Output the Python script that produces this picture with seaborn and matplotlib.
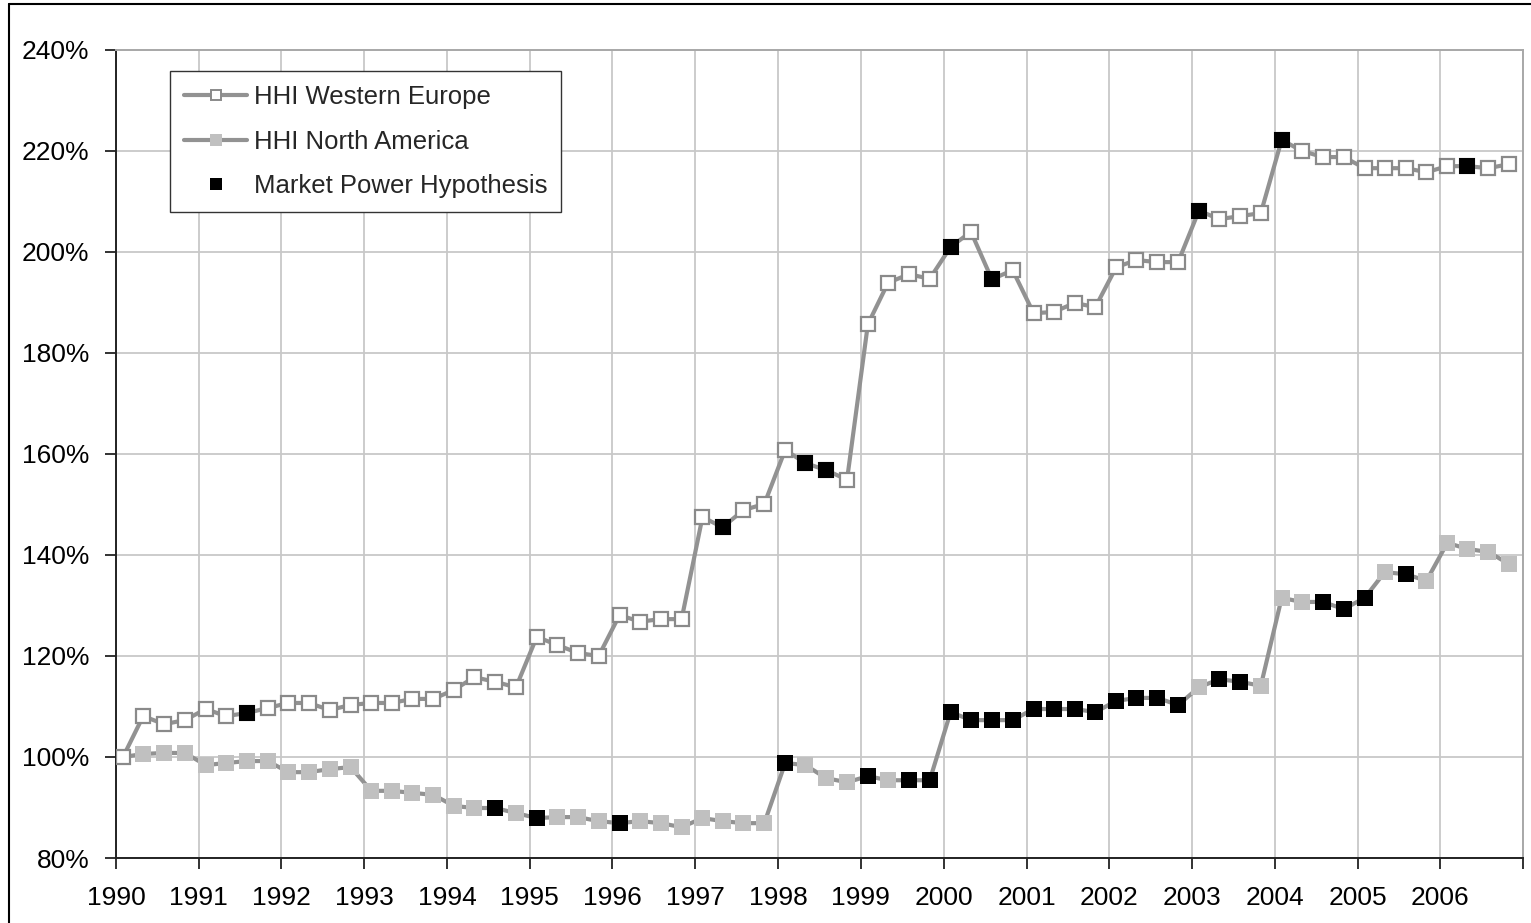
import matplotlib
matplotlib.use("Agg")
import matplotlib.pyplot as plt
import matplotlib.dates as mdates
from matplotlib.lines import Line2D
from matplotlib.ticker import FuncFormatter
import seaborn as sns
import pandas as pd

# ---------------- data ----------------
first_period = "1990-02-01"
n_periods = 68
year_labels = [str(y) for y in range(1990, 2007)]

hhi_we = [100.0, 108.1, 106.5, 107.3,
          109.5, 108.1, 108.7, 109.7,
          110.7, 110.7, 109.3, 110.3,
          110.7, 110.7, 111.5, 111.5,
          113.3, 115.8, 114.9, 113.8,
          123.8, 122.2, 120.6, 120.0,
          128.1, 126.8, 127.3, 127.3,
          147.5, 145.5, 148.9, 150.1,
          160.8, 158.2, 156.8, 154.9,
          185.7, 193.9, 195.6, 194.7,
          201.0, 204.0, 194.6, 196.4,
          187.9, 188.1, 189.9, 189.1,
          197.0, 198.4, 198.0, 198.0,
          208.2, 206.5, 207.1, 207.7,
          222.2, 220.0, 218.8, 218.8,
          216.6, 216.6, 216.6, 215.8,
          217.0, 217.0, 216.6, 217.4]

hhi_na = [100.0, 100.6, 100.8, 100.8,
          98.4, 98.8, 99.2, 99.2,
          97.0, 97.0, 97.6, 98.0,
          93.3, 93.3, 92.9, 92.5,
          90.3, 89.9, 89.9, 88.9,
          87.9, 88.1, 88.1, 87.3,
          86.9, 87.3, 86.9, 86.1,
          87.9, 87.3, 86.9, 86.9,
          98.8, 98.4, 95.8, 95.0,
          96.2, 95.4, 95.4, 95.4,
          108.9, 107.3, 107.3, 107.3,
          109.5, 109.5, 109.5, 108.9,
          111.1, 111.7, 111.7, 110.3,
          113.8, 115.4, 114.9, 114.1,
          131.5, 130.7, 130.7, 129.3,
          131.5, 136.6, 136.2, 134.9,
          142.4, 141.2, 140.6, 138.2]

# quarters flagged by the market power hypothesis
mph_we = ["1991Q3", "1997Q2", "1998Q2", "1998Q3", "2000Q1", "2000Q3",
          "2003Q1", "2004Q1", "2006Q2"]
mph_na = ["1994Q3", "1995Q1", "1996Q1", "1998Q1", "1999Q1", "1999Q3", "1999Q4",
          "2000Q1", "2000Q2", "2000Q3", "2000Q4",
          "2001Q1", "2001Q2", "2001Q3", "2001Q4",
          "2002Q1", "2002Q2", "2002Q3", "2002Q4",
          "2003Q2", "2003Q3", "2004Q3", "2004Q4", "2005Q1", "2005Q3"]

y_ticks = [80, 100, 120, 140, 160, 180, 200, 220, 240]
series_labels = ["HHI Western Europe", "HHI North America", "Market Power Hypothesis"]

# ---------------- frame ----------------
dates = pd.date_range(first_period, periods=n_periods, freq="3MS")
qlabels = [f"{d.year}Q{(d.month - 1) // 3 + 1}" for d in dates]
df = pd.DataFrame({"date": dates, "q": qlabels, "we": hhi_we, "na": hhi_na})
mph_pts = pd.concat([
    df.loc[df["q"].isin(mph_we), ["date", "we"]].rename(columns={"we": "v"}),
    df.loc[df["q"].isin(mph_na), ["date", "na"]].rename(columns={"na": "v"}),
])

sns.set_theme(style="white")
plt.rcParams["font.family"] = ["Liberation Sans", "DejaVu Sans"]

W, H = 1531, 923
fig = plt.figure(figsize=(W / 100, H / 100), dpi=100)
ax = fig.add_axes([116 / W, (H - 858) / H, (1523 - 116) / W, (858 - 50) / H])

line_col = "#929292"
sns.lineplot(data=df, x="date", y="na", ax=ax, color=line_col, lw=3.0,
             marker="s", markersize=11.5, markerfacecolor="#c0c0c0",
             markeredgecolor="#c0c0c0", markeredgewidth=0, zorder=3)
sns.lineplot(data=df, x="date", y="we", ax=ax, color=line_col, lw=3.0,
             marker="s", markersize=10, markerfacecolor="white",
             markeredgecolor="#8a8a8a", markeredgewidth=1.6, zorder=4)
sns.scatterplot(data=mph_pts, x="date", y="v", ax=ax, color="black",
                marker="s", s=125, linewidth=0, zorder=5)

ax.set_xlim(pd.Timestamp("1990-01-01"), pd.Timestamp("2007-01-01"))
ax.set_ylim(80, 240)
ax.set_yticks(y_ticks)
ax.yaxis.set_major_formatter(FuncFormatter(lambda v, p: f"{v:.0f}%"))
ax.xaxis.set_major_locator(mdates.YearLocator(1))
ax.xaxis.set_major_formatter(FuncFormatter(
    lambda v, p: (lambda y: str(y) if str(y) in year_labels else "")(mdates.num2date(v).year)))
ax.set_xlabel("")
ax.set_ylabel("")

ax.grid(True, color="#c8c8c8", lw=1.3)
ax.set_axisbelow(True)
for s in ["left", "bottom"]:
    ax.spines[s].set_color("#222222")
    ax.spines[s].set_linewidth(1.4)
for s in ["top", "right"]:
    ax.spines[s].set_color("#a8a8a8")
    ax.spines[s].set_linewidth(1.4)

ax.tick_params(axis="both", which="major", direction="out", length=8, width=1.3,
               color="#222222", labelsize=19, labelcolor="black",
               bottom=True, left=True)
ax.tick_params(axis="y", pad=11)
ax.tick_params(axis="x", pad=12)

handles = [
    Line2D([], [], color=line_col, lw=3.0, marker="s", markersize=7,
           markerfacecolor="white", markeredgecolor="#8a8a8a", markeredgewidth=1.4),
    Line2D([], [], color=line_col, lw=3.0, marker="s", markersize=9,
           markerfacecolor="#c0c0c0", markeredgewidth=0),
    Line2D([], [], color="none", marker="s", markersize=8.5,
           markerfacecolor="black", markeredgewidth=0),
]
leg = ax.legend(handles, series_labels, loc="upper left",
                bbox_to_anchor=((170 - 116) / 1407, (858 - 71) / 808),
                borderaxespad=0, fontsize=18.5, frameon=True, fancybox=False,
                framealpha=1, edgecolor="#333333", handlelength=2.45,
                handletextpad=0.25, labelspacing=0.8, borderpad=0.55)
leg.get_frame().set_linewidth(1.0)

# outer frame of the chart object
fig.add_artist(Line2D([9 / W, 9 / W], [0, 1 - 4 / H], transform=fig.transFigure,
                      color="black", lw=1.5))
fig.add_artist(Line2D([9 / W, 1], [1 - 4 / H, 1 - 4 / H], transform=fig.transFigure,
                      color="black", lw=1.5))

fig.savefig("out.png", dpi=100)
